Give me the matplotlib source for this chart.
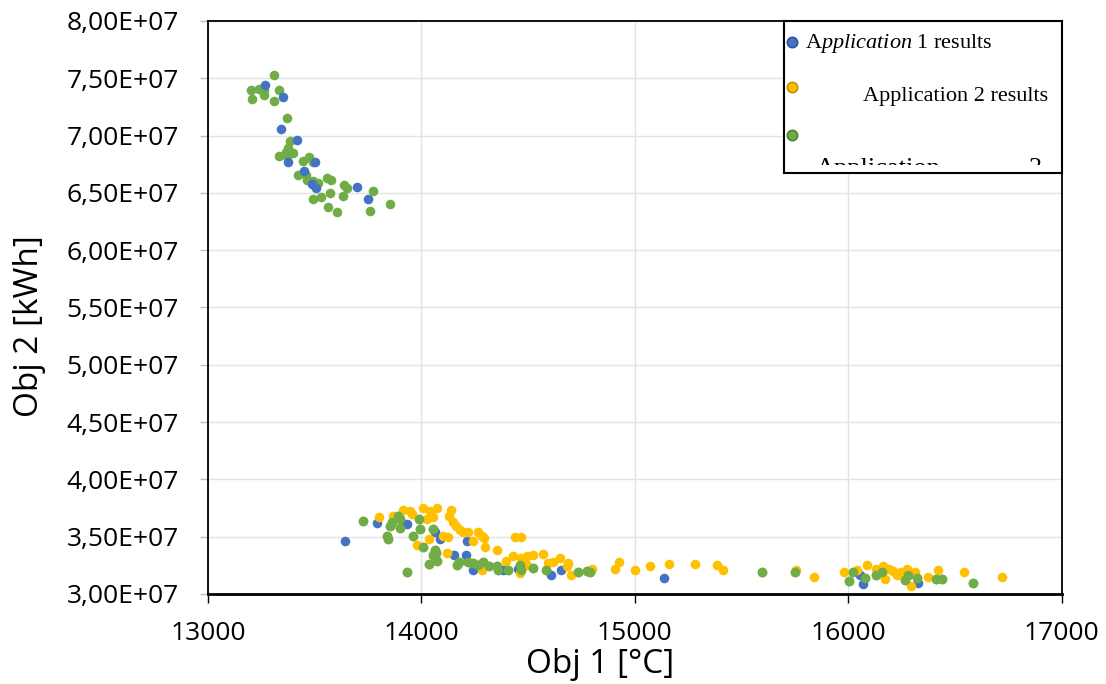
import matplotlib
matplotlib.use("Agg")
import matplotlib.pyplot as plt
from matplotlib.patches import Rectangle
from matplotlib.ticker import FuncFormatter, MultipleLocator


# Application 1 results (blue)
app1_x = [13268, 13350, 13342, 13417, 13373, 13501, 13450, 13486, 13504, 13697,
          13751,
          13642, 13790, 13934, 14063, 14087, 14212, 14152, 14208, 14240, 14383,
          14453, 14605, 14652, 15136, 16054, 16069, 16327]
app1_y = [74.4e6, 73.4e6, 70.6e6, 69.6e6, 67.7e6, 67.7e6, 66.9e6, 65.8e6, 65.4e6, 65.5e6,
          64.5e6,
          34.6e6, 36.2e6, 36.1e6, 35.4e6, 34.8e6, 34.6e6, 33.4e6, 33.4e6, 32.1e6, 32.1e6,
          32.2e6, 31.7e6, 32.1e6, 31.4e6, 31.7e6, 30.9e6, 31.0e6]

# Application 2 results (yellow)
app2_x = [13802, 13868, 13915, 13946, 13954, 14006, 14040, 14071, 14055, 14024,
          14137, 14130, 14149, 14162, 14180, 14196, 14219, 14102, 14126, 14037,
          13980, 14118, 14243, 14266, 14282, 14294, 14297, 14352, 14438, 14465,
          14427, 14396, 14469, 14493, 14282, 14461, 14521, 14571, 14493, 14594,
          14617, 14649, 14688, 14680, 14699, 14797, 14906, 14927, 15003, 15070,
          15161, 15281, 15383, 15414, 15757, 15840, 15979, 16039, 16088, 16132,
          16163, 16191, 16210, 16226, 16249, 16276, 16312, 16172, 16295, 16374,
          16421, 16543, 16721]
app2_y = [36.7e6, 36.8e6, 37.3e6, 37.2e6, 37.0e6, 37.5e6, 37.2e6, 37.5e6, 36.7e6, 36.5e6,
          37.3e6, 36.8e6, 36.3e6, 35.9e6, 35.6e6, 35.4e6, 35.4e6, 35.1e6, 35.0e6, 34.8e6,
          34.3e6, 33.6e6, 34.6e6, 35.4e6, 35.1e6, 34.9e6, 34.1e6, 33.8e6, 35.0e6, 35.0e6,
          33.3e6, 32.9e6, 33.1e6, 33.3e6, 32.1e6, 31.8e6, 33.4e6, 33.5e6, 32.5e6, 32.7e6,
          32.8e6, 33.1e6, 32.7e6, 32.4e6, 31.7e6, 32.2e6, 32.2e6, 32.8e6, 32.1e6, 32.4e6,
          32.6e6, 32.6e6, 32.5e6, 32.1e6, 32.1e6, 31.5e6, 31.9e6, 32.1e6, 32.5e6, 32.2e6,
          32.4e6, 32.2e6, 32.0e6, 31.7e6, 31.9e6, 32.2e6, 31.9e6, 31.3e6, 30.7e6, 31.5e6,
          32.1e6, 31.9e6, 31.5e6]

# Application 3 results (green)
app3_x = [13311, 13200, 13240, 13264, 13331, 13206, 13264, 13311, 13370, 13384,
          13376, 13365, 13400, 13331, 13371, 13446, 13472, 13490, 13423, 13459,
          13462, 13490, 13517, 13556, 13576, 13637, 13652, 13571, 13634, 13493,
          13528, 13562, 13603, 13771, 13852, 13759,
          13725, 13852, 13860, 13891, 13899, 13899, 13837, 13845, 13962, 13990,
          13993, 14008, 14055, 14063, 14068, 14055, 14037, 14074, 13934, 14165,
          14177, 14219, 14243, 14266, 14290, 14318, 14352, 14360, 14407, 14461,
          14469, 14521, 14583, 14734, 14774, 14789, 15596, 15749, 16023, 16004,
          16077, 16132, 16156, 16265, 16280, 16320, 16410, 16437, 16582]
app3_y = [75.3e6, 74.0e6, 74.1e6, 74.0e6, 74.0e6, 73.2e6, 73.5e6, 73.0e6, 71.5e6, 69.5e6,
          68.9e6, 68.6e6, 68.5e6, 68.2e6, 68.2e6, 67.8e6, 68.1e6, 67.7e6, 66.6e6, 66.6e6,
          66.1e6, 66.0e6, 65.9e6, 66.3e6, 66.1e6, 65.7e6, 65.4e6, 65.0e6, 64.7e6, 64.5e6,
          64.6e6, 63.8e6, 63.3e6, 65.2e6, 64.0e6, 63.4e6,
          36.4e6, 35.9e6, 36.3e6, 36.8e6, 36.5e6, 35.8e6, 35.1e6, 34.8e6, 35.1e6, 36.5e6,
          35.7e6, 34.1e6, 35.7e6, 33.8e6, 33.6e6, 33.4e6, 32.6e6, 32.9e6, 31.9e6, 32.5e6,
          32.8e6, 32.8e6, 32.7e6, 32.5e6, 32.8e6, 32.4e6, 32.4e6, 32.1e6, 32.1e6, 32.5e6,
          32.1e6, 32.3e6, 32.1e6, 31.9e6, 32.0e6, 31.9e6, 31.9e6, 31.9e6, 31.9e6, 31.1e6,
          31.4e6, 31.7e6, 31.9e6, 31.2e6, 31.7e6, 31.4e6, 31.3e6, 31.3e6, 31.0e6]

BLUE = "#4472C4"
YELLOW = "#FFC000"
GREEN = "#70AD47"
DOT = 48

plt.rcParams["font.family"] = ["Open Sans", "DejaVu Sans"]
plt.rcParams["mathtext.fontset"] = "custom"
plt.rcParams["mathtext.rm"] = "Liberation Serif"
plt.rcParams["mathtext.it"] = "Liberation Serif:italic"

fig = plt.figure(figsize=(11.06, 6.84), dpi=100)
ax = fig.add_axes([0.188, 0.1316, 0.772, 0.8378])

ax.scatter(app3_x, app3_y, s=DOT, color=GREEN, linewidths=0, zorder=3)
ax.scatter(app1_x, app1_y, s=DOT, color=BLUE, linewidths=0, zorder=3)
ax.scatter(app2_x, app2_y, s=DOT, color=YELLOW, linewidths=0, zorder=3)
# green again on the bottom band so it sits over the yellow in places
ax.scatter(app3_x[36:], app3_y[36:], s=DOT, color=GREEN, linewidths=0, zorder=4)

ax.set_xlim(13000, 17000)
ax.set_ylim(3.0e7, 8.0e7)
ax.xaxis.set_major_locator(MultipleLocator(1000))
ax.yaxis.set_major_locator(MultipleLocator(5e6))
ax.yaxis.set_major_formatter(FuncFormatter(lambda v, p: f"{v:.2E}".replace(".", ",")))

ax.grid(True, color="#e3e3e3", linewidth=1.0, zorder=0)
ax.set_axisbelow(True)

for side in ["left", "top", "right"]:
    ax.spines[side].set_linewidth(1.3)
    ax.spines[side].set_color("black")
ax.spines["bottom"].set_linewidth(2.0)
ax.spines["bottom"].set_color("black")

ax.tick_params(axis="x", direction="out", length=6.5, width=1.0, color="black",
               labelsize=19, pad=13)
ax.tick_params(axis="y", direction="out", length=6, width=1.0, color="#bfbfbf",
               labelsize=19, pad=15)

ax.set_xlabel("Obj 1 [°C]", fontsize=24)
ax.xaxis.set_label_coords(0.459, -0.095)
ax.set_ylabel("Obj 2 [kWh]", fontsize=24)
ax.yaxis.set_label_coords(-0.19, 0.467)

# hand-built legend box in the upper right corner
lax = fig.add_axes([0.7089, 0.7471, 0.2513, 0.2222])
lax.set_xlim(0, 1)
lax.set_ylim(0, 1)
lax.set_xticks([])
lax.set_yticks([])
for s in lax.spines.values():
    s.set_linewidth(1.5)
    s.set_color("black")

lax.scatter([0.029], [0.862], s=55, color=BLUE, edgecolors="#2F5597", linewidths=1.2, clip_on=False)
lax.scatter([0.029], [0.566], s=55, color=YELLOW, edgecolors="#BF9000", linewidths=1.2, clip_on=False)
lax.scatter([0.029], [0.250], s=55, color=GREEN, edgecolors="#507E32", linewidths=1.2, clip_on=False)

serif = ["Liberation Serif", "DejaVu Serif"]
lax.text(0.0755, 0.85, r"A$\mathit{pplication}$ 1 results", family=serif, fontsize=16,
         va="center", ha="left")
lax.text(0.284, 0.50, "Application 2 results", family=serif, fontsize=16,
         va="center", ha="left")

# third label is cut off by the box, only the tops of the glyphs show
clip = Rectangle((0, 0.053), 1, 0.947, transform=lax.transAxes)
t3a = lax.text(0.115, -0.013, "Application", family=serif, fontsize=19,
               va="baseline", ha="left", clip_on=True)
t3b = lax.text(0.88, -0.013, "3", family=serif, fontsize=19,
               va="baseline", ha="left", clip_on=True)
for t in (t3a, t3b):
    t.set_clip_path(clip)

fig.savefig("out.png", dpi=100)
